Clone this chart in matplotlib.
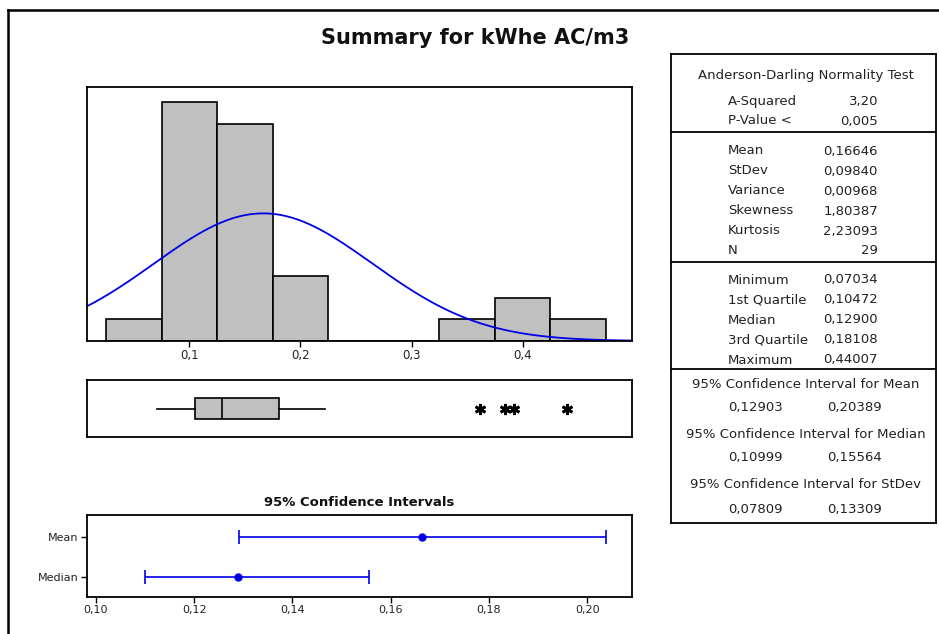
import numpy as np
import matplotlib.pyplot as plt
from matplotlib.lines import Line2D
from matplotlib.ticker import FuncFormatter

plt.rcParams["font.family"] = ["DejaVu Sans"]

# histogram data (bins of width 0.05)
bin_centers = [0.05, 0.10, 0.15, 0.20, 0.25, 0.30, 0.35, 0.40, 0.45]
counts = [1, 11, 10, 3, 0, 0, 1, 2, 1]
bin_width = 0.05

# summary statistics
mean, stdev, n = 0.16646, 0.09840, 29
minimum, q1, median, q3, maximum = 0.07034, 0.10472, 0.12900, 0.18108, 0.44007
upper_whisker = 0.222
outliers = [0.362, 0.384, 0.392, 0.44007]

ci_labels = ["Mean", "Median"]
ci_center = [0.16646, 0.12900]
ci_low = [0.12903, 0.10999]
ci_high = [0.20389, 0.15564]

stat_rows = [
    [("A-Squared", "3,20"), ("P-Value <", "0,005")],
    [("Mean", "0,16646"), ("StDev", "0,09840"), ("Variance", "0,00968"),
     ("Skewness", "1,80387"), ("Kurtosis", "2,23093"), ("N", "29")],
    [("Minimum", "0,07034"), ("1st Quartile", "0,10472"), ("Median", "0,12900"),
     ("3rd Quartile", "0,18108"), ("Maximum", "0,44007")],
]
ci_rows = [
    ("95% Confidence Interval for Mean", "0,12903", "0,20389"),
    ("95% Confidence Interval for Median", "0,10999", "0,15564"),
    ("95% Confidence Interval for StDev", "0,07809", "0,13309"),
]

W, H = 939, 634
BAR = "#C0C0C0"
BLUE = "#0000E6"
TXT = "#222222"


def px_axes(fig, left, top, right, bottom):
    return fig.add_axes([left / W, 1 - bottom / H, (right - left) / W, (bottom - top) / H])


def comma(fmt):
    return FuncFormatter(lambda v, p: (fmt % v).replace(".", ","))


def frame(ax, lw=1.3):
    for s in ax.spines.values():
        s.set_linewidth(lw)
        s.set_color("black")


fig = plt.figure(figsize=(W / 100, H / 100), dpi=100)

# outer frame (only left and top edges visible)
fig.add_artist(Line2D([8 / W, 8 / W], [0, 1 - 10 / H], color="black", lw=1.8,
                      transform=fig.transFigure))
fig.add_artist(Line2D([8 / W, 1], [1 - 10 / H, 1 - 10 / H], color="black", lw=1.8,
                      transform=fig.transFigure))

fig.text(475 / W, 1 - 38 / H, "Summary for kWhe AC/m3", ha="center", va="center",
         fontsize=15, fontweight="bold", color="#111111")

# --- histogram ---
xlim = (0.0077, 0.4986)
ax = px_axes(fig, 87, 87, 632, 341)
ax.bar(bin_centers, counts, width=bin_width, color=BAR, edgecolor="black", linewidth=1.2)
xs = np.linspace(xlim[0], 0.55, 400)
ys = n * bin_width * np.exp(-0.5 * ((xs - mean) / stdev) ** 2) / (stdev * np.sqrt(2 * np.pi))
ax.plot(xs, ys, color=BLUE, lw=1.3)
ax.set_xlim(xlim)
ax.set_ylim(0, 11.7)
ax.set_yticks([])
ax.set_xticks([0.1, 0.2, 0.3, 0.4])
ax.xaxis.set_major_formatter(comma("%.1f"))
ax.tick_params(axis="x", length=4, width=1, labelsize=8.5, labelcolor=TXT, pad=2)
frame(ax)

# --- boxplot ---
bx = px_axes(fig, 87, 380, 632, 437)
stats = [dict(med=median, q1=q1, q3=q3, whislo=minimum, whishi=upper_whisker,
              fliers=outliers)]
bx.bxp(stats, positions=[0.5], widths=0.38, vert=False, patch_artist=True,
       showcaps=False,
       boxprops=dict(facecolor=BAR, edgecolor="black", linewidth=1.2),
       medianprops=dict(color="black", linewidth=1.2),
       whiskerprops=dict(color="black", linewidth=1.2),
       flierprops=dict(marker=(6, 2, 0), markersize=8, markeredgewidth=2,
                       markeredgecolor="black"))
bx.set_xlim(xlim)
bx.set_ylim(0, 1)
bx.set_xticks([])
bx.set_yticks([])
frame(bx)

# --- confidence intervals ---
fig.text(359 / W, 1 - 502 / H, "95% Confidence Intervals", ha="center", va="center",
         fontsize=9.5, fontweight="bold", color="#111111")
cx = px_axes(fig, 87, 515, 632, 597)
ypos = [1, 0]
for yv, c, lo, hi in zip(ypos, ci_center, ci_low, ci_high):
    cx.errorbar([c], [yv], xerr=[[c - lo], [hi - c]], fmt="o", color=BLUE,
                markersize=5, capsize=5, elinewidth=1.2, capthick=1.2)
cx.set_xlim(0.0982, 0.2091)
cx.set_ylim(-0.5, 1.55)
cx.set_yticks(ypos)
cx.set_yticklabels(ci_labels)
cx.set_xticks([0.10, 0.12, 0.14, 0.16, 0.18, 0.20])
cx.xaxis.set_major_formatter(comma("%.2f"))
cx.tick_params(length=4, width=1, labelsize=8, labelcolor=TXT, pad=2)
frame(cx)

# --- statistics table ---
tx = px_axes(fig, 671, 54, 936, 523)
tx.set_xlim(671, 936)
tx.set_ylim(523, 54)
tx.set_xticks([])
tx.set_yticks([])
frame(tx, 1.3)
for yd in [132, 262, 369]:
    tx.axhline(yd, color="black", lw=1.3)

fs = 9.5
tx.text(806, 75, "Anderson-Darling Normality Test", ha="center", va="center",
        fontsize=fs, color=TXT)
row_y = [[101, 121], [151, 171, 191, 211, 231, 251], [280, 300, 320, 340, 360]]
for block, ys_ in zip(stat_rows, row_y):
    for (lab, val), yy in zip(block, ys_):
        tx.text(728, yy, lab, ha="left", va="center", fontsize=fs, color=TXT)
        tx.text(878, yy, val, ha="right", va="center", fontsize=fs, color=TXT)
for (head, lo, hi), yh, yv in zip(ci_rows, [384, 435, 485], [408, 458, 510]):
    tx.text(806, yh, head, ha="center", va="center", fontsize=fs, color=TXT)
    tx.text(728, yv, lo, ha="left", va="center", fontsize=fs, color=TXT)
    tx.text(827, yv, hi, ha="left", va="center", fontsize=fs, color=TXT)

fig.savefig("out.png", dpi=100)
